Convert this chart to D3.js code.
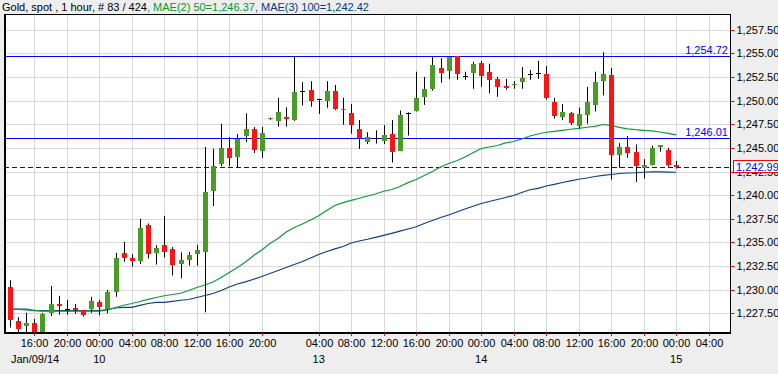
<!DOCTYPE html>
<html>
<head>
<meta charset="utf-8">
<title>Gold, spot, 1 hour</title>
<script type="text/javascript" src="https://cdnjs.cloudflare.com/ajax/libs/d3/7.8.5/d3.min.js"></script>
<style>
  body { margin: 0; background: #eeeeee; }
  svg { display: block; font-family: "Liberation Sans", Arial, sans-serif; }
</style>
</head>
<body>
<script type="text/javascript">

// Hourly candles, Jan 09 13:00 -> Jan 15 00:00 (index = candle slot)
var opens  = [1230.25,1226.7,1226.2,1226.5,1225.2,1227.55,1228.5,1228.0,1228.05,1227.85,1228.0,1228.7,1228.0,1229.75,1233.9,1233.35,1233.05,1236.8,1233.9,1234.7,1234.3,1232.7,1233.15,1233.75,1234.0,1240.45,1243.3,1245.0,1244.05,1246.3,1247.0,1244.7,1248.05,1247.85,1248.3,1247.95,1251.0,1251.15,1250.15,1250.0,1251.0,1249.05,1248.7,1247.0,1245.6,1246.0,1245.75,1246.45,1244.65,1248.7,1248.95,1250.4,1251.25,1253.45,1253.15,1254.72,1252.55,1252.95,1254.0,1253.05,1252.3,1251.55,1251.7,1251.95,1252.8,1252.9,1252.8,1249.85,1248.25,1248.7,1247.35,1248.5,1249.55,1252.1,1252.7,1244.2,1245.1,1244.55,1242.85,1243.2,1245.05,1244.75,1243.2]
var highs  = [1231.0,1227.1,1227.55,1226.9,1227.55,1230.4,1229.35,1228.9,1228.5,1227.85,1229.25,1228.9,1229.95,1233.9,1235.05,1233.75,1237.5,1237.0,1234.7,1237.8,1234.5,1233.95,1234.0,1234.75,1245.1,1244.9,1247.55,1246.15,1246.45,1248.65,1247.2,1247.2,1248.2,1250.3,1249.3,1254.7,1251.95,1252.05,1250.2,1252.05,1251.65,1250.3,1249.65,1247.95,1246.65,1246.85,1247.4,1247.95,1248.95,1248.75,1253.05,1252.5,1254.6,1254.5,1254.72,1254.72,1253.05,1254.1,1254.2,1253.9,1252.5,1252.3,1252.05,1253.55,1253.25,1254.2,1253.65,1250.3,1249.65,1248.8,1249.25,1251.45,1253.05,1255.1,1253.45,1245.5,1246.25,1245.35,1243.8,1245.25,1245.3,1245.0,1243.6]
var lows   = [1226.0,1225.5,1225.3,1225.0,1225.0,1227.2,1227.35,1227.35,1227.45,1227.15,1227.55,1227.3,1227.5,1229.25,1232.95,1232.45,1232.7,1233.3,1232.65,1233.4,1231.5,1231.2,1232.55,1232.55,1227.6,1238.85,1243.05,1243.05,1242.9,1245.6,1244.45,1243.95,1247.95,1247.25,1247.25,1247.85,1249.5,1249.35,1248.6,1249.25,1249.0,1247.45,1246.5,1244.9,1245.4,1245.45,1245.4,1243.45,1244.65,1246.3,1248.85,1249.55,1251.05,1251.9,1252.3,1252.2,1252.2,1251.25,1251.45,1250.75,1250.4,1251.15,1251.25,1251.25,1252.2,1252.3,1250.1,1248.1,1247.95,1247.4,1247.05,1247.55,1248.85,1250.55,1241.65,1242.9,1243.95,1241.4,1241.75,1243.15,1244.6,1243.0,1242.8]
var closes = [1226.8,1225.8,1226.5,1225.2,1227.45,1228.5,1228.25,1228.0,1227.85,1227.3,1228.85,1228.2,1229.75,1233.35,1233.4,1233.05,1236.5,1233.8,1234.4,1234.0,1232.65,1233.15,1233.65,1234.2,1240.35,1243.05,1245.0,1243.95,1245.95,1247.0,1244.8,1246.55,1248.15,1248.8,1248.1,1250.9,1251.0,1250.0,1250.15,1251.0,1249.15,1249.15,1247.45,1246.0,1246.15,1246.0,1246.35,1244.6,1248.5,1248.7,1250.3,1251.25,1253.75,1252.95,1254.6,1252.85,1252.55,1253.85,1252.6,1252.2,1251.45,1251.35,1251.75,1252.4,1252.8,1252.9,1250.3,1248.4,1248.8,1247.65,1248.6,1249.85,1251.95,1252.8,1244.2,1245.1,1244.5,1243.1,1243.15,1245.0,1245.3,1243.2,1242.99]

// moving averages
var mae50  = [1227.95,1227.9,1227.85,1227.8,1227.74,1227.74,1227.74,1227.74,1227.74,1227.74,1227.74,1227.74,1227.85,1228.11,1228.35,1228.54,1228.75,1228.98,1229.17,1229.36,1229.49,1229.62,1229.91,1230.23,1230.49,1230.81,1231.29,1231.82,1232.35,1232.93,1233.61,1234.2,1234.88,1235.41,1236.1,1236.58,1236.95,1237.37,1237.81,1238.38,1238.9,1239.21,1239.45,1239.67,1239.91,1240.12,1240.41,1240.6,1240.91,1241.32,1241.65,1242.08,1242.5,1242.98,1243.35,1243.64,1244.04,1244.49,1244.93,1245.09,1245.25,1245.52,1245.67,1245.94,1246.26,1246.47,1246.65,1246.75,1246.86,1246.97,1247.07,1247.18,1247.28,1247.47,1247.37,1247.16,1247.0,1246.92,1246.86,1246.79,1246.68,1246.54,1246.37]
var mae100 = [1227.95,1227.95,1227.95,1227.78,1227.78,1227.78,1227.78,1227.78,1227.78,1227.78,1227.78,1227.78,1227.9,1228.06,1228.13,1228.13,1228.33,1228.54,1228.66,1228.66,1228.77,1228.88,1228.96,1229.17,1229.38,1229.59,1229.91,1230.28,1230.6,1230.83,1231.1,1231.39,1231.71,1232.03,1232.35,1232.66,1232.98,1233.35,1233.72,1234.04,1234.32,1234.57,1234.94,1235.15,1235.33,1235.54,1235.75,1235.96,1236.19,1236.42,1236.66,1237.0,1237.32,1237.63,1237.9,1238.22,1238.53,1238.82,1239.12,1239.33,1239.54,1239.75,1239.96,1240.28,1240.57,1240.72,1240.97,1241.13,1241.34,1241.5,1241.68,1241.81,1241.97,1242.08,1242.18,1242.29,1242.34,1242.37,1242.42,1242.45,1242.45,1242.43,1242.42]

// levels drawn on the chart
var levels = [1254.72, 1246.01]
var lastPrice = 1242.99

// axis ticks
var yTicks = [1227.5,1230,1232.5,1235,1237.5,1240,1242.5,1245,1247.5,1250,1252.5,1255,1257.5]
var hourIdx = [3,7,11,15,19,23,27,31,38,42,46,50,54,58,62,66,70,74,78,82,86]
var hourLabels = ["16:00","20:00","00:00","04:00","08:00","12:00","16:00","20:00","04:00","08:00","12:00","16:00","20:00","00:00","04:00","08:00","12:00","16:00","20:00","00:00","04:00"]
var dayIdx = [0,11,38,58,82]
var dayLabels = ["Jan/09/14","10","13","14","15"]

var W = 778, H = 374
var plot = {left: 4, top: 14, right: 730, bottom: 333}

var svg = d3.select("body").append("svg")
    .attr("width", W)
    .attr("height", H)

var xs = d3.scaleLinear()
    .domain([0, 86])
    .range([9.9, 708.65])

var ys = d3.scaleLinear()
    .domain([1227.5, 1257.5])
    .range([313.3, 29.7])

function px(v) { return Math.round(v) + 0.5 }

// plot background
svg.append("rect")
    .attr("x", plot.left).attr("y", plot.top)
    .attr("width", plot.right - plot.left).attr("height", plot.bottom - plot.top)
    .style("fill", "#ffffff")

svg.append("clipPath").attr("id", "clip")
  .append("rect")
    .attr("x", plot.left).attr("y", plot.top)
    .attr("width", plot.right - plot.left).attr("height", plot.bottom - plot.top)

var g = svg.append("g").attr("clip-path", "url(#clip)")

// grid
g.selectAll(".hgrid").data(yTicks).enter().append("line")
    .attr("x1", plot.left).attr("x2", plot.right)
    .attr("y1", function(d){ return px(ys(d)) })
    .attr("y2", function(d){ return px(ys(d)) })
    .style("stroke", "#d9d9d9")

g.selectAll(".vgrid").data(hourIdx).enter().append("line")
    .attr("y1", plot.top).attr("y2", plot.bottom)
    .attr("x1", function(d){ return px(xs(d)) })
    .attr("x2", function(d){ return px(xs(d)) })
    .style("stroke", "#d9d9d9")

// level lines
g.selectAll(".level").data(levels).enter().append("line")
    .attr("x1", plot.left).attr("x2", plot.right)
    .attr("y1", function(d){ return px(ys(d)) })
    .attr("y2", function(d){ return px(ys(d)) })
    .style("stroke", "#0000ff")

g.append("line")
    .attr("x1", plot.left).attr("x2", plot.right)
    .attr("y1", px(ys(lastPrice))).attr("y2", px(ys(lastPrice)))
    .style("stroke", "#0000ff")
    .style("stroke-dasharray", "5,3")

// moving averages
var line100 = d3.line()
    .x(function(d, i){ return xs(i) })
    .y(function(d){ return ys(d) })

g.append("path").datum(mae100)
    .attr("d", line100)
    .style("fill", "none")
    .style("stroke", "#0b3f88")
    .style("stroke-width", 1.2)

g.append("path").datum(mae50)
    .attr("d", line100)
    .style("fill", "none")
    .style("stroke", "#0f9a3a")
    .style("stroke-width", 1.2)

// candles
var idx = d3.range(opens.length)

g.selectAll(".wick").data(idx).enter().append("line")
    .attr("x1", function(i){ return px(xs(i)) })
    .attr("x2", function(i){ return px(xs(i)) })
    .attr("y1", function(i){ return ys(highs[i]) })
    .attr("y2", function(i){ return ys(lows[i]) })
    .style("stroke", "#000000")

g.selectAll(".body").data(idx).enter().append("rect")
    .attr("x", function(i){ return Math.round(xs(i)) - 2 })
    .attr("width", 5)
    .attr("y", function(i){ return Math.round(ys(Math.max(opens[i], closes[i]))) })
    .attr("height", function(i){
        var h = Math.round(ys(Math.min(opens[i], closes[i]))) - Math.round(ys(Math.max(opens[i], closes[i])))
        return Math.max(1, h)
    })
    .style("fill", function(i){
        if (opens[i] == closes[i]) return "#000000"
        return closes[i] > opens[i] ? "#4b9b29" : "#ff1414"
    })

// level labels
svg.selectAll(".levelLabel").data(levels).enter().append("text")
    .attr("x", 728)
    .attr("y", function(d){ return Math.round(ys(d)) - 2 })
    .attr("text-anchor", "end")
    .style("font-size", "11px")
    .style("fill", "#0000ff")
    .text(function(d){ return d3.format(",.2f")(d) })

// frame
svg.append("line").attr("x1", 5).attr("x2", 5).attr("y1", plot.top).attr("y2", plot.bottom + 1)
    .style("stroke", "#000").style("stroke-width", 2)
svg.append("line").attr("x1", plot.left).attr("x2", plot.right).attr("y1", 14.5).attr("y2", 14.5)
    .style("stroke", "#000")
svg.append("line").attr("x1", plot.left).attr("x2", plot.right + 1).attr("y1", 333).attr("y2", 333)
    .style("stroke", "#000").style("stroke-width", 2)
svg.append("line").attr("x1", 730.5).attr("x2", 730.5).attr("y1", plot.top).attr("y2", plot.bottom)
    .style("stroke", "#000")

// y axis on the right
var yAxis = svg.append("g")
    .attr("transform", "translate(" + 730.5 + ",0)")
    .call(d3.axisRight(ys)
        .tickValues(yTicks)
        .tickFormat(d3.format(",.2f"))
        .tickSize(4)
        .tickPadding(2))
yAxis.select(".domain").remove()
yAxis.selectAll(".tick line").style("stroke", "#ff0000")
yAxis.selectAll(".tick").attr("transform", function(d){ return "translate(0," + px(ys(d)) + ")" })
yAxis.selectAll("text").style("font-size", "11px").style("fill", "#000").style("font-family", "'Liberation Sans', Arial, sans-serif")

// last price box
svg.append("rect")
    .attr("x", 733.5).attr("y", Math.round(ys(lastPrice)) - 6.5)
    .attr("width", 46).attr("height", 12)
    .style("fill", "#ffffff").style("stroke", "#ff0000")
svg.append("text")
    .attr("x", 736).attr("y", Math.round(ys(lastPrice)) + 4)
    .style("font-size", "11px").style("fill", "#0000ff")
    .text(d3.format(",.2f")(lastPrice))

// x axis
var xAxis = svg.append("g")
    .attr("transform", "translate(0," + 333 + ")")
    .call(d3.axisBottom(xs)
        .tickValues(hourIdx)
        .tickFormat(function(d, k){ return hourLabels[k] })
        .tickSize(3)
        .tickPadding(3))
xAxis.select(".domain").remove()
xAxis.selectAll(".tick line").style("stroke", "#ff0000")
xAxis.selectAll(".tick").attr("transform", function(d){ return "translate(" + px(xs(d)) + ",0)" })
xAxis.selectAll("text").style("font-size", "11px").style("fill", "#000").style("font-family", "'Liberation Sans', Arial, sans-serif")

// day labels
svg.selectAll(".day").data(dayIdx).enter().append("text")
    .attr("x", function(d, k){ return k == 0 ? xs(d) + 1 : xs(d) })
    .attr("y", 363)
    .attr("text-anchor", function(d, k){ return k == 0 ? "start" : "middle" })
    .style("font-size", "11px")
    .style("fill", "#000")
    .text(function(d, k){ return dayLabels[k] })

// title line
var title = svg.append("text")
    .attr("x", 2).attr("y", 11)
    .style("font-size", "11px")
title.append("tspan").style("fill", "#000").text("Gold, spot , 1 hour, # 83 / 424")
title.append("tspan").style("fill", "#009933").text(", MAE(2) 50=1,246.37")
title.append("tspan").style("fill", "#003b85").text(", MAE(3) 100=1,242.42")

</script>
</body>
</html>
